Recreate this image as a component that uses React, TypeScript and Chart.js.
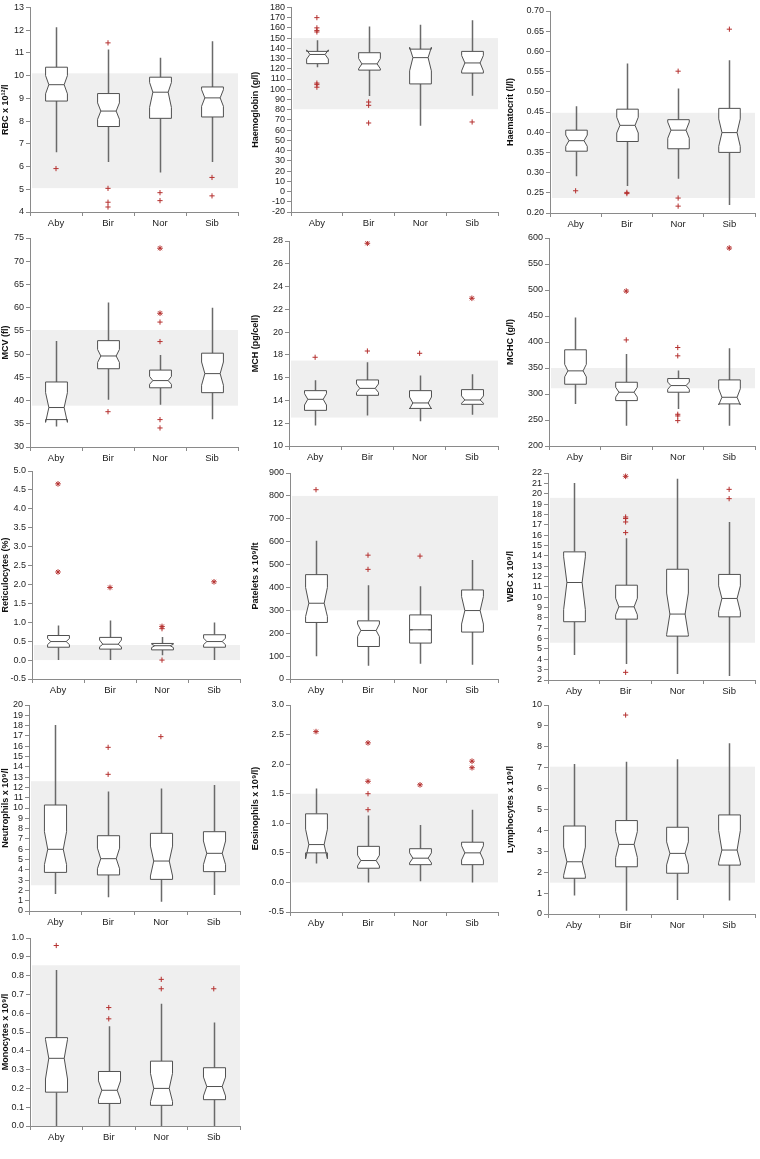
import React, { useEffect, useRef } from 'react';
import { Chart, registerables } from 'chart.js';

Chart.register(...registerables);

const CATEGORIES = ['Aby', 'Bir', 'Nor', 'Sib'];

// Each box tuple: [whiskerLow, q1, median, q3, whiskerHigh, notchLow, notchHigh]
// Outliers: [category, value, marker] where marker '+' or '*'

const rbcBoxes = [
  [6.63, 8.88, 9.6, 10.37, 12.13, 9.2, 10.0],
  [6.2, 7.76, 8.44, 9.21, 11.15, 8.08, 8.8],
  [5.74, 8.12, 9.27, 9.93, 10.79, 8.6, 9.7],
  [6.2, 8.18, 9.02, 9.5, 11.51, 8.65, 9.38],
];
const rbcOutliers = [['Aby', 5.91, '+'], ['Bir', 11.44, '+'], ['Bir', 5.04, '+'], ['Bir', 4.43, '+'], ['Bir', 4.22, '+'], ['Nor', 4.85, '+'], ['Nor', 4.5, '+'], ['Sib', 5.52, '+'], ['Sib', 4.71, '+']];
const rbcRange = [5.05, 10.1];
const rbcAxis = [4, 13, 1, 0];

const hbBoxes = [
  [121.5, 125, 134, 137, 148, 129.5, 138.5],
  [93.3, 118.7, 124.8, 135.7, 161.4, 120, 130],
  [64.4, 105.2, 130.9, 139.2, 163, 118, 141],
  [93.6, 115.8, 125.7, 137, 167.5, 118, 133],
];
const hbOutliers = [['Aby', 170, '+'], ['Aby', 160, '+'], ['Aby', 157.5, '+'], ['Aby', 156, '+'], ['Aby', 106, '+'], ['Aby', 104.5, '+'], ['Aby', 102, '+'], ['Bir', 87.5, '+'], ['Bir', 84.3, '+'], ['Bir', 67, '+'], ['Sib', 68, '+']];
const hbRange = [80.5, 150];
const hbAxis = [-20, 180, 10, 0];

const hctBoxes = [
  [0.291, 0.353, 0.379, 0.405, 0.4645, 0.365, 0.393],
  [0.267, 0.377, 0.417, 0.457, 0.57, 0.398, 0.437],
  [0.285, 0.359, 0.405, 0.431, 0.508, 0.385, 0.425],
  [0.22, 0.35, 0.399, 0.459, 0.578, 0.365, 0.433],
];
const hctOutliers = [['Aby', 0.255, '+'], ['Bir', 0.251, '+'], ['Bir', 0.248, '+'], ['Nor', 0.551, '+'], ['Nor', 0.237, '+'], ['Nor', 0.217, '+'], ['Sib', 0.655, '+']];
const hctRange = [0.237, 0.448];
const hctAxis = [0.2, 0.7, 0.05, 2];

const mcvBoxes = [
  [34.4, 35.9, 38.5, 44.0, 52.8, 35.3, 41.7],
  [40.2, 46.85, 49.6, 52.9, 61.1, 48.2, 51.0],
  [39.1, 42.75, 44.3, 46.56, 49.8, 43.5, 45.2],
  [36.0, 41.7, 45.8, 50.2, 60.0, 43.3, 48.3],
];
const mcvOutliers = [['Bir', 37.6, '+'], ['Nor', 72.8, '*'], ['Nor', 58.8, '*'], ['Nor', 56.9, '+'], ['Nor', 52.7, '+'], ['Nor', 35.9, '+'], ['Nor', 34.1, '+']];
const mcvRange = [38.9, 55.2];
const mcvAxis = [30, 75, 5, 0];

const mchBoxes = [
  [11.79, 13.13, 14.1, 14.86, 15.77, 13.6, 14.6],
  [12.67, 14.45, 15.06, 15.8, 17.35, 14.7, 15.45],
  [12.17, 13.3, 13.78, 14.86, 16.18, 13.25, 14.3],
  [12.75, 13.66, 14.04, 14.95, 16.3, 13.75, 14.4],
];
const mchOutliers = [['Aby', 17.79, '+'], ['Bir', 27.8, '*'], ['Bir', 18.34, '+'], ['Nor', 18.14, '+'], ['Sib', 22.97, '*']];
const mchRange = [12.5, 17.5];
const mchAxis = [10, 28, 2, 0];

const mchcBoxes = [
  [281, 318.8, 344.5, 385, 447, 333, 357],
  [239, 287.3, 303.4, 322.6, 377, 294, 313],
  [271.3, 303.4, 316.2, 329.7, 345, 309, 323],
  [239, 281, 293.7, 327.1, 388, 279, 310],
];
const mchcOutliers = [['Bir', 497.9, '*'], ['Bir', 404, '+'], ['Nor', 389.4, '+'], ['Nor', 373.4, '+'], ['Nor', 261, '+'], ['Nor', 257.8, '+'], ['Nor', 248.8, '+'], ['Sib', 580.7, '*']];
const mchcRange = [311, 350];
const mchcAxis = [200, 600, 50, 0];

const retBoxes = [
  [0.0, 0.34, 0.49, 0.65, 0.915, 0.41, 0.57],
  [0.0, 0.29, 0.42, 0.6, 1.05, 0.35, 0.53],
  [0.13, 0.27, 0.38, 0.44, 0.61, 0.33, 0.42],
  [0.0, 0.34, 0.49, 0.67, 0.995, 0.41, 0.58],
];
const retOutliers = [['Aby', 4.66, '*'], ['Aby', 2.33, '*'], ['Bir', 1.92, '*'], ['Nor', 0.89, '*'], ['Nor', 0.83, '+'], ['Nor', 0.0, '+'], ['Sib', 2.07, '*']];
const retRange = [0, 0.4];
const retAxis = [-0.5, 5.0, 0.5, 1];

const pltBoxes = [
  [99, 247, 331, 456, 604, 273, 400],
  [58, 142, 212, 254, 410, 185, 240],
  [67, 157, 215, 280, 405, 215, 215],
  [62, 205, 299, 389, 520, 240, 360],
];
const pltOutliers = [['Aby', 827, '+'], ['Bir', 541, '+'], ['Bir', 479, '+'], ['Nor', 537, '+']];
const pltRange = [300, 800];
const pltAxis = [0, 900, 100, 0];

const wbcBoxes = [
  [4.41, 7.63, 11.42, 14.38, 21.04, 8.8, 13.9],
  [3.54, 7.88, 9.07, 11.16, 15.7, 8.3, 9.9],
  [2.58, 6.24, 8.37, 12.7, 21.45, 6.4, 10.4],
  [2.39, 8.1, 9.88, 12.2, 17.27, 8.6, 11.1],
];
const wbcOutliers = [['Bir', 21.68, '*'], ['Bir', 17.75, '+'], ['Bir', 17.6, '+'], ['Bir', 17.27, '+'], ['Bir', 16.24, '+'], ['Bir', 2.74, '+'], ['Sib', 20.42, '+'], ['Sib', 19.52, '+']];
const wbcRange = [5.6, 19.6];
const wbcAxis = [2, 22, 1, 0];

const neuBoxes = [
  [1.65, 3.75, 5.99, 10.29, 18.06, 4.5, 7.7],
  [1.33, 3.5, 5.08, 7.31, 11.59, 4.1, 6.1],
  [0.9, 3.07, 4.85, 7.54, 11.9, 3.4, 6.3],
  [1.55, 3.82, 5.6, 7.7, 12.23, 4.5, 6.8],
];
const neuOutliers = [['Bir', 15.89, '+'], ['Bir', 13.27, '+'], ['Nor', 16.93, '+']];
const neuRange = [2.5, 12.6];
const neuAxis = [0, 20, 1, 0];

const eosBoxes = [
  [0.32, 0.5, 0.64, 1.16, 1.59, 0.4, 0.9],
  [0.0, 0.24, 0.37, 0.61, 1.13, 0.28, 0.46],
  [0.02, 0.3, 0.41, 0.57, 0.97, 0.33, 0.5],
  [0.0, 0.3, 0.5, 0.68, 1.23, 0.38, 0.62],
];
const eosOutliers = [['Aby', 2.55, '*'], ['Bir', 2.36, '*'], ['Bir', 1.71, '*'], ['Bir', 1.5, '+'], ['Bir', 1.23, '+'], ['Nor', 1.65, '*'], ['Sib', 2.05, '*'], ['Sib', 1.94, '*']];
const eosRange = [0, 1.5];
const eosAxis = [-0.5, 3.0, 0.5, 1];

const lymBoxes = [
  [0.88, 1.71, 2.5, 4.21, 7.18, 1.85, 3.2],
  [0.16, 2.26, 3.33, 4.47, 7.29, 2.7, 3.95],
  [0.67, 1.95, 2.9, 4.15, 7.4, 2.35, 3.45],
  [0.64, 2.34, 3.06, 4.74, 8.17, 2.45, 4.0],
];
const lymOutliers = [['Bir', 9.52, '+']];
const lymRange = [1.5, 7.05];
const lymAxis = [0, 10, 1, 0];

const monBoxes = [
  [0.0, 0.18, 0.36, 0.47, 0.83, 0.25, 0.46],
  [0.0, 0.12, 0.19, 0.29, 0.53, 0.14, 0.24],
  [0.0, 0.11, 0.2, 0.345, 0.65, 0.13, 0.28],
  [0.0, 0.14, 0.21, 0.31, 0.55, 0.16, 0.26],
];
const monOutliers = [['Aby', 0.96, '+'], ['Bir', 0.63, '+'], ['Bir', 0.57, '+'], ['Nor', 0.78, '+'], ['Nor', 0.73, '+'], ['Sib', 0.73, '+']];
const monRange = [0, 0.855];
const monAxis = [0, 1.0, 0.1, 1];

const PANELS = [
  { title: 'RBC x 10¹²/l', boxes: rbcBoxes, outliers: rbcOutliers, range: rbcRange, axis: rbcAxis },
  { title: 'Haemoglobin (g/l)', boxes: hbBoxes, outliers: hbOutliers, range: hbRange, axis: hbAxis },
  { title: 'Haematocrit (l/l)', boxes: hctBoxes, outliers: hctOutliers, range: hctRange, axis: hctAxis },
  { title: 'MCV (fl)', boxes: mcvBoxes, outliers: mcvOutliers, range: mcvRange, axis: mcvAxis },
  { title: 'MCH (pg/cell)', boxes: mchBoxes, outliers: mchOutliers, range: mchRange, axis: mchAxis },
  { title: 'MCHC (g/l)', boxes: mchcBoxes, outliers: mchcOutliers, range: mchcRange, axis: mchcAxis },
  { title: 'Reticulocytes (%)', boxes: retBoxes, outliers: retOutliers, range: retRange, axis: retAxis },
  { title: 'Patelets x 10⁹/lt', boxes: pltBoxes, outliers: pltOutliers, range: pltRange, axis: pltAxis },
  { title: 'WBC x 10⁹/l', boxes: wbcBoxes, outliers: wbcOutliers, range: wbcRange, axis: wbcAxis },
  { title: 'Neutrophils x 10⁹/l', boxes: neuBoxes, outliers: neuOutliers, range: neuRange, axis: neuAxis },
  { title: 'Eosinophils x 10⁹/l)', boxes: eosBoxes, outliers: eosOutliers, range: eosRange, axis: eosAxis },
  { title: 'Lymphocytes x 10⁹/l', boxes: lymBoxes, outliers: lymOutliers, range: lymRange, axis: lymAxis },
  { title: 'Monocytes x 10⁹/l', boxes: monBoxes, outliers: monOutliers, range: monRange, axis: monAxis },
];

// Layout (page pixels): canvas origin/width + where the axes should sit
const LAYOUT = [
  { x: 0, y: 0, w: 250, axisX: 30, top: 5, bottom: 212, right: 238 },
  { x: 250, y: 0, w: 255, axisX: 291, top: 5, bottom: 212, right: 498 },
  { x: 505, y: 0, w: 255, axisX: 550, top: 11, bottom: 213, right: 757 },
  { x: 0, y: 225, w: 250, axisX: 30, top: 238, bottom: 447, right: 238 },
  { x: 250, y: 225, w: 255, axisX: 289, top: 241, bottom: 446, right: 498 },
  { x: 505, y: 225, w: 255, axisX: 549, top: 238, bottom: 446, right: 757 },
  { x: 0, y: 458, w: 250, axisX: 32, top: 471, bottom: 679, right: 240 },
  { x: 250, y: 458, w: 255, axisX: 290, top: 473, bottom: 679, right: 498 },
  { x: 505, y: 458, w: 255, axisX: 548, top: 473, bottom: 680, right: 757 },
  { x: 0, y: 692, w: 250, axisX: 29, top: 705, bottom: 911, right: 240 },
  { x: 250, y: 692, w: 255, axisX: 290, top: 705, bottom: 912, right: 498 },
  { x: 505, y: 692, w: 255, axisX: 548, top: 705, bottom: 914, right: 757 },
  { x: 0, y: 925, w: 250, axisX: 30, top: 938, bottom: 1126, right: 240 },
];
const X_AXIS_BAND = 24;

const FONT = "'Liberation Sans', Arial, sans-serif";

function Panel({ def, lay }: { def: any; lay: any }) {
  const ref = useRef<HTMLCanvasElement | null>(null);
  const h = lay.bottom - lay.y + X_AXIS_BAND;
  useEffect(() => {
    if (!ref.current) return;
    const [ymin, ymax, step, dec] = def.axis;
    const boxPlugin = {
      id: 'notchedBoxes',
      beforeDraw(chart: any) {
        const { ctx, chartArea } = chart;
        const ys = chart.scales.y;
        const yHi = ys.getPixelForValue(def.range[1]);
        const yLo = ys.getPixelForValue(def.range[0]);
        ctx.save();
        ctx.fillStyle = '#efefef';
        ctx.fillRect(chartArea.left + 2, yHi, chartArea.right - chartArea.left - 2, yLo - yHi);
        ctx.restore();
      },
      beforeDatasetsDraw(chart: any) {
        const { ctx } = chart;
        const xs = chart.scales.x;
        const ys = chart.scales.y;
        const catW = (xs.right - xs.left) / CATEGORIES.length;
        const bw = catW * 0.42;
        const Y = (v: number) => ys.getPixelForValue(v);
        ctx.save();
        def.boxes.forEach((b: number[], i: number) => {
          const [lo, q1, med, q3, hi, nlo, nhi] = b;
          const cx = Math.round(xs.getPixelForValue(i)) + 0.5;
          const L = cx - bw / 2;
          const R = cx + bw / 2;
          const iL = L + bw * 0.15;
          const iR = R - bw * 0.15;
          ctx.strokeStyle = '#6a6a6a';
          ctx.lineWidth = 1.5;
          ctx.beginPath();
          ctx.moveTo(cx, Y(q3));
          ctx.lineTo(cx, Y(hi));
          ctx.moveTo(cx, Y(q1));
          ctx.lineTo(cx, Y(lo));
          ctx.stroke();
          ctx.beginPath();
          ctx.moveTo(L, Y(q1));
          ctx.lineTo(L, Y(nlo));
          ctx.lineTo(iL, Y(med));
          ctx.lineTo(L, Y(nhi));
          ctx.lineTo(L, Y(q3));
          ctx.lineTo(R, Y(q3));
          ctx.lineTo(R, Y(nhi));
          ctx.lineTo(iR, Y(med));
          ctx.lineTo(R, Y(nlo));
          ctx.lineTo(R, Y(q1));
          ctx.closePath();
          ctx.fillStyle = '#ffffff';
          ctx.fill();
          ctx.strokeStyle = '#505050';
          ctx.lineWidth = 1;
          ctx.stroke();
          ctx.beginPath();
          ctx.moveTo(iL, Y(med));
          ctx.lineTo(iR, Y(med));
          ctx.stroke();
        });
        ctx.restore();
      },
    };
    const chart = new Chart(ref.current, {
      type: 'line',
      data: {
        labels: CATEGORIES,
        datasets: [
          {
            data: def.outliers.map((o: any[]) => ({ x: o[0], y: o[1] })),
            showLine: false,
            pointStyle: def.outliers.map((o: any[]) => (o[2] === '*' ? 'star' : 'cross')),
            pointRadius: def.outliers.map((o: any[]) => (o[2] === '*' ? 2.8 : 2.6)),
            pointBorderWidth: 1,
            borderColor: '#b5302f',
            backgroundColor: '#b5302f',
          },
        ],
      },
      options: {
        animation: false,
        responsive: false,
        maintainAspectRatio: false,
        events: [],
        layout: {
          padding: { left: 0, top: lay.top - lay.y, right: lay.x + lay.w - lay.right, bottom: 0 },
        },
        plugins: { legend: { display: false }, tooltip: { enabled: false } },
        scales: {
          x: {
            type: 'category',
            offset: true,
            grid: { offset: true, drawOnChartArea: false, drawTicks: true, tickLength: 4, color: '#8a8a8a' },
            border: { color: '#8a8a8a', width: 1 },
            ticks: { font: { family: FONT, size: 9.5 }, color: '#222', padding: 2 },
            afterFit: (s: any) => {
              s.height = X_AXIS_BAND;
            },
          },
          y: {
            type: 'linear',
            min: ymin,
            max: ymax,
            ticks: {
              stepSize: step,
              autoSkip: false,
              font: { family: FONT, size: 9 },
              color: '#222',
              padding: 2,
              callback: (v: any) => Number(v).toFixed(dec),
            },
            grid: { drawOnChartArea: false, drawTicks: true, tickLength: 4, color: '#8a8a8a' },
            border: { color: '#8a8a8a', width: 1 },
            title: {
              display: true,
              text: def.title,
              font: { family: FONT, size: 9, weight: 'bold' },
              color: '#111',
              padding: 0,
            },
            afterFit: (s: any) => {
              s.width = lay.axisX - lay.x;
            },
          },
        },
      },
      plugins: [boxPlugin],
    } as any);
    return () => chart.destroy();
  }, [def, lay]);
  return (
    <canvas
      ref={ref}
      width={lay.w}
      height={h}
      style={{ position: 'absolute', left: lay.x, top: lay.y, width: lay.w, height: h }}
    />
  );
}

export default function App() {
  return (
    <div style={{ position: 'absolute', left: 0, top: 0, width: 760, height: 1159, background: '#fff' }}>
      {PANELS.map((p, i) => (
        <Panel key={i} def={p} lay={LAYOUT[i]} />
      ))}
    </div>
  );
}
